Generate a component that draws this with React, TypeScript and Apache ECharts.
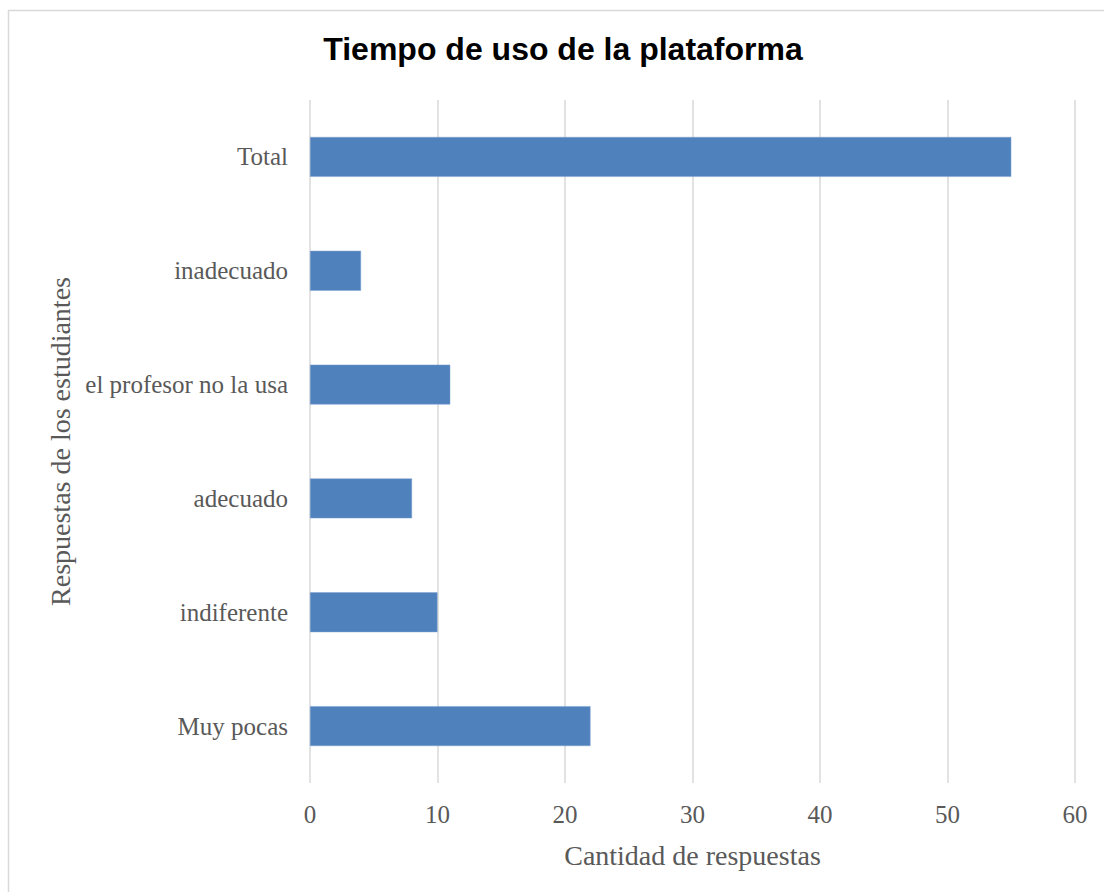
import React, { useEffect, useRef } from "react";
import * as echarts from "echarts";

const categories = ["Muy pocas", "indiferente", "adecuado", "el profesor no la usa", "inadecuado", "Total"];
const values = [22, 10, 8, 11, 4, 55];
const xTicks = { min: 0, max: 60, interval: 10 };

const labelFont = "'Liberation Serif', serif";

export default function App() {
  const ref = useRef<HTMLDivElement>(null);
  useEffect(() => {
    const chart = echarts.init(ref.current!, null, { renderer: "svg" });
    chart.setOption({
      animation: false,
      backgroundColor: "#ffffff",
      title: {
        text: "Tiempo de uso de la plataforma",
        left: 558,
        textAlign: "center",
        top: 28,
        textStyle: { fontFamily: "'Liberation Sans', Arial, sans-serif", fontWeight: "bold", fontSize: 32, color: "#000000" },
      },
      graphic: [
        {
          type: "rect",
          shape: { x: 8.5, y: 10.5, width: 1110, height: 900 },
          style: { fill: "none", stroke: "#d9d9d9", lineWidth: 1.5 },
          silent: true,
        },
      ],
      grid: { left: 310, right: 29, top: 100, bottom: 109, containLabel: false },
      xAxis: {
        type: "value",
        min: xTicks.min,
        max: xTicks.max,
        interval: xTicks.interval,
        name: "Cantidad de respuestas",
        nameLocation: "middle",
        nameGap: 58,
        nameTextStyle: { fontFamily: labelFont, fontSize: 28, color: "#595959" },
        axisLabel: { fontFamily: labelFont, fontSize: 25, color: "#595959", margin: 19 },
        axisLine: { show: false },
        axisTick: { show: false },
        splitLine: { show: true, lineStyle: { color: "#d9d9d9", width: 1.5 } },
      },
      yAxis: {
        type: "category",
        data: categories,
        name: "Respuestas de los estudiantes",
        nameLocation: "middle",
        nameGap: 236,
        nameTextStyle: { fontFamily: labelFont, fontSize: 28, color: "#595959" },
        axisLabel: { fontFamily: labelFont, fontSize: 25, color: "#595959", margin: 22 },
        axisLine: { show: false },
        axisTick: { show: false },
        splitLine: { show: false },
      },
      series: [
        {
          type: "bar",
          data: values,
          barWidth: "35%",
          itemStyle: { color: "#4F81BD", borderColor: "#7FA1D0", borderWidth: 0.5 },
        },
      ],
    });
    return () => chart.dispose();
  }, []);
  return <div ref={ref} style={{ position: "absolute", left: 0, top: 0, width: 1104, height: 892 }} />;
}
